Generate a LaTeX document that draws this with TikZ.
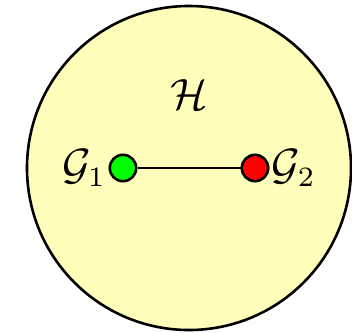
\documentclass[tikz,border=0pt]{standalone}
\usepackage{tikz}
\usetikzlibrary{positioning}
\usepackage{amsmath, amssymb}
\usepackage{xcolor}
\definecolor{hullfill}{RGB}{255,255,187}
\definecolor{srcgreen}{RGB}{0,255,0}
\definecolor{dstred}{RGB}{255,0,0}
\tikzset{
  hull/.style   = {circle, draw=black, line width=0.65pt, fill=hullfill,
                   minimum size=81pt, inner sep=0pt},
  vert/.style   = {circle, draw=black, line width=0.65pt, minimum size=6.6pt,
                   inner sep=0pt},
  link/.style   = {line width=0.65pt, color=black},
}
\begin{document}
\begin{tikzpicture}[x=0.25pt, y=-0.25pt, every node/.style={font=\fontsize{10.7}{13}\selectfont}]
  \useasboundingbox (0,0) rectangle (352,332);
  \node[hull] (H) at (189,168) {};
  \node (Hlab) at (189,95) {$\mathcal{H}$};
  \node[vert, fill=srcgreen, label={[inner sep=0.4pt]left:{$\mathcal{G}_1$}}] (g1) at (123,168) {};
  \node[vert, fill=dstred, label={[inner sep=0.4pt]right:{$\mathcal{G}_2$}}] (g2) at (255,168) {};
  \draw[link] (g1) -- (g2);
\end{tikzpicture}
\end{document}
